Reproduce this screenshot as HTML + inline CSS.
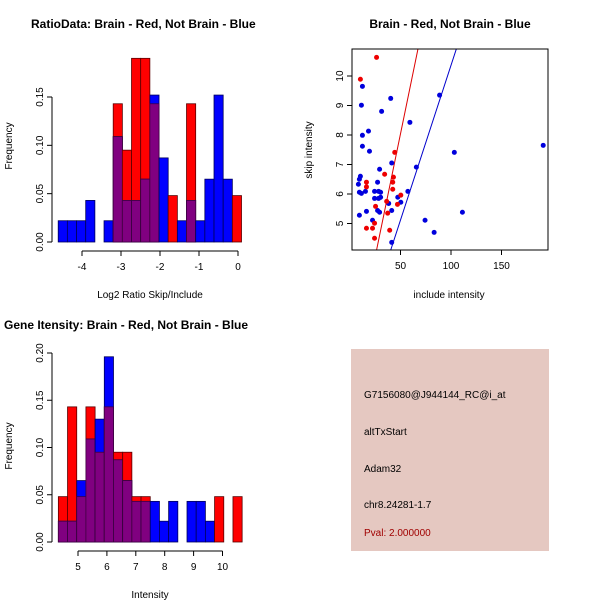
<!DOCTYPE html>
<html><head><meta charset="utf-8">
<style>
body{margin:0;background:#fff;}
svg{display:block;font-family:"Liberation Sans",sans-serif;}
.t{font-weight:bold;font-size:12px;}
.l{font-size:10px;}
</style></head>
<body>
<svg id="chart" width="600" height="600" viewBox="0 0 600 600">
<rect width="600" height="600" fill="#fff"/>
<text class="t" x="31" y="28">RatioData: Brain - Red, Not Brain - Blue</text>
<text class="t" x="450" y="28" text-anchor="middle">Brain - Red, Not Brain - Blue</text>
<text class="t" x="4" y="329">Gene Itensity: Brain - Red, Not Brain - Blue</text>
<g>
<rect x="351" y="349" width="198" height="202" fill="#e5c8c1"/>
<text class="l" x="364" y="398" font-size="11">G7156080@J944144_RC@i_at</text>
<text class="l" x="364" y="435">altTxStart</text>
<text class="l" x="364" y="472">Adam32</text>
<text class="l" x="364" y="508">chr8.24281-1.7</text>
<text class="l" x="364" y="536" fill="#a00000">Pval: 2.000000</text>
</g>
</svg>
<script>
// ratio histogram data
const ratioStart = -4.61, ratioWidth = 0.235;
const ratioBlue = [0.022,0.022,0.022,0.043,0,0.022,0.109,0.043,0.043,0.065,0.152,0.087,0,0.022,0.043,0.022,0.065,0.152,0.065,0];
const ratioRed  = [0,0,0,0,0,0,0.143,0.095,0.19,0.19,0.143,0,0.048,0,0.143,0,0,0,0,0.048];
const ratioXTicks = [-4,-3,-2,-1,0];
const ratioYTicks = ["0.00","0.05","0.10","0.15"];
// intensity histogram data
const intStart = 4.32, intWidth = 0.318;
const intBlue = [0.022,0.022,0.065,0.109,0.13,0.196,0.087,0.065,0.043,0.043,0.043,0.022,0.043,0,0.043,0.043,0.022,0,0,0];
const intRed  = [0.048,0.143,0.048,0.143,0.095,0.143,0.095,0.095,0.048,0.048,0,0,0,0,0,0,0,0.048,0,0.048];
const intXTicks = [5,6,7,8,9,10];
const intYTicks = ["0.00","0.05","0.10","0.15","0.20"];
// scatter data
const redX = [26.3,10.3,44.3,34.3,43,42.3,16.3,16.3,42.3,50.3,36.3,47,25.3,37.3,24.3,16.3,22.3,39.3,24.3];
const redY = [10.63,9.89,7.41,6.67,6.57,6.40,6.40,6.24,6.16,5.96,5.75,5.65,5.58,5.35,5.01,4.84,4.84,4.77,4.50];
const blueX = [12.3,40.3,11.3,88.7,31.3,59.3,18.3,12.3,12.3,19.3,103.3,191.3,41.3,65.7,29.3,10.3,9.3,8.3,27.3,9.3,11.3,15.3,24.3,28.3,30.3,24.3,30.3,28.3,47.3,57.3,38.3,50.3,27.3,29.3,16.3,41.3,111.3,9.3,22.3,74.3,83.3,41.3];
const blueY = [9.65,9.24,9.01,9.35,8.80,8.43,8.13,7.99,7.62,7.45,7.41,7.65,7.05,6.91,6.84,6.60,6.50,6.33,6.40,6.06,6.02,6.09,6.09,6.09,6.06,5.85,5.89,5.85,5.89,6.09,5.68,5.72,5.44,5.38,5.41,5.44,5.38,5.28,5.11,5.11,4.70,4.36];
const redLine = [-0.274, 0.1663];
const blueLine = [-0.128, 0.1049];
const scXTicks = [50,100,150];
const scYTicks = [5,6,7,8,9,10];

const svg = document.getElementById('chart');
const NS = 'http://www.w3.org/2000/svg';
function mk(tag, attrs, parent){const e=document.createElementNS(NS,tag);for(const k in attrs)e.setAttribute(k,attrs[k]);(parent||svg).appendChild(e);return e;}

function hist(opts){
  const g = mk('g',{});
  
  
  const sx = v => opts.x0 + (v - opts.xv0) * opts.xs;
  const sy = v => opts.y0 - v * opts.ys;
  for (let i=0;i<opts.red.length;i++){
    const xa = sx(opts.start + i*opts.width), xb = sx(opts.start + (i+1)*opts.width);
    const r = opts.red[i], b = opts.blue[i], m = Math.min(r,b);
    if (r>0){const e=mk('rect',{x:xa,y:sy(r),width:xb-xa,height:sy(0)-sy(r),fill:'#ff0000',stroke:'#5a0000','stroke-width':0.8},g);
      
      }
    if (b>0){const e=mk('rect',{x:xa,y:sy(b),width:xb-xa,height:sy(0)-sy(b),fill:'#0000ff',stroke:'#00005a','stroke-width':0.8},g);
      
      }
    if (m>0){const e=mk('rect',{x:xa,y:sy(m),width:xb-xa,height:sy(0)-sy(m),fill:'#800080',stroke:'#400040','stroke-width':0.8},g);
      
      }
  }
  // y axis
  const yv = opts.yticks.map(Number);
  const ya = mk('g',{stroke:'#000','stroke-width':1});
  
  
  mk('line',{x1:opts.axX,x2:opts.axX,y1:sy(yv[0]),y2:sy(yv[yv.length-1])},ya);
  opts.yticks.forEach((t,i)=>{
    const y=sy(yv[i]);
    mk('line',{x1:opts.axX-5,x2:opts.axX,y1:y,y2:y},ya);
    const tx=mk('text',{x:opts.axX-9,y:y,'font-size':10,'text-anchor':'middle',transform:`rotate(-90 ${opts.axX-9} ${y})`,stroke:'none',fill:'#000'},ya);
    tx.textContent=t;
  });
  const xa = mk('g',{stroke:'#000','stroke-width':1});
  
  
  mk('line',{x1:sx(opts.xticks[0]),x2:sx(opts.xticks[opts.xticks.length-1]),y1:opts.axY,y2:opts.axY},xa);
  opts.xticks.forEach(t=>{
    const x=sx(t);
    mk('line',{x1:x,x2:x,y1:opts.axY,y2:opts.axY+5},xa);
    const tx=mk('text',{x:x,y:opts.axY+19,'font-size':10,'text-anchor':'middle',stroke:'none',fill:'#000'},xa);
    tx.textContent=t;
  });
  const xl=mk('text',{x:opts.xlabX,y:opts.xlabY,'font-size':10,'text-anchor':'middle'});
  xl.textContent=opts.xlab;
  
  
  const yl=mk('text',{x:12,y:opts.ylabY,'font-size':10,'text-anchor':'middle',transform:`rotate(-90 12 ${opts.ylabY})`});
  yl.textContent='Frequency';
  
  
}

hist({name:'ratio-hist',red:ratioRed,blue:ratioBlue,start:ratioStart,width:ratioWidth,
  x0:82,xv0:-4,xs:39,y0:242,ys:966.7,axX:52,axY:251,xticks:ratioXTicks,yticks:ratioYTicks,
  xlab:'Log2 Ratio Skip/Include',xlabX:150,xlabY:298,ylabY:146});
hist({name:'intensity-hist',red:intRed,blue:intBlue,start:intStart,width:intWidth,
  x0:78,xv0:5,xs:28.9,y0:542,ys:945,axX:52,axY:551,xticks:intXTicks,yticks:intYTicks,
  xlab:'Intensity',xlabX:150,xlabY:598,ylabY:446});

// scatter
const L=352,R=548,T=49,B=250;
const px = v => 350 + v*1.01;
const py = v => 76 + (10 - v)*29.5;
const sg = mk('g',{});


mk('defs',{},sg).innerHTML='<clipPath id="pc"><rect x="352" y="49" width="196" height="201"/></clipPath>';
function line(p,col,name){
  const xa=0, xb=200;
  const e=mk('line',{x1:px(xa),y1:py(p[0]+p[1]*xa),x2:px(xb),y2:py(p[0]+p[1]*xb),stroke:col,'stroke-width':1,'clip-path':'url(#pc)'},sg);
  
  
}
line(redLine,'#dd0000','red-fit-line');
line(blueLine,'#0000cc','blue-fit-line');
blueX.forEach((x,i)=>{const c=mk('circle',{cx:px(x),cy:py(blueY[i]),r:2.5,fill:'#0000dd'},sg);
  
  });
redX.forEach((x,i)=>{const c=mk('circle',{cx:px(x),cy:py(redY[i]),r:2.5,fill:'#ee0000'},sg);
  
  });
const box=mk('rect',{x:L,y:T,width:R-L,height:B-T,fill:'none',stroke:'#000'},sg);


scXTicks.forEach(t=>{
  mk('line',{x1:px(t),x2:px(t),y1:B,y2:B+5,stroke:'#000'},sg);
  const tx=mk('text',{x:px(t),y:B+19,'font-size':10,'text-anchor':'middle'},sg);tx.textContent=t;
});
scYTicks.forEach(t=>{
  mk('line',{x1:L-5,x2:L,y1:py(t),y2:py(t),stroke:'#000'},sg);
  const tx=mk('text',{x:L-9,y:py(t),'font-size':10,'text-anchor':'middle',transform:`rotate(-90 ${L-9} ${py(t)})`},sg);tx.textContent=t;
});
const sxl=mk('text',{x:449,y:298,'font-size':10,'text-anchor':'middle'});
sxl.textContent='include intensity';


const syl=mk('text',{x:312,y:150,'font-size':10,'text-anchor':'middle',transform:'rotate(-90 312 150)'});
syl.textContent='skip intensity';


</script>
</body></html>
